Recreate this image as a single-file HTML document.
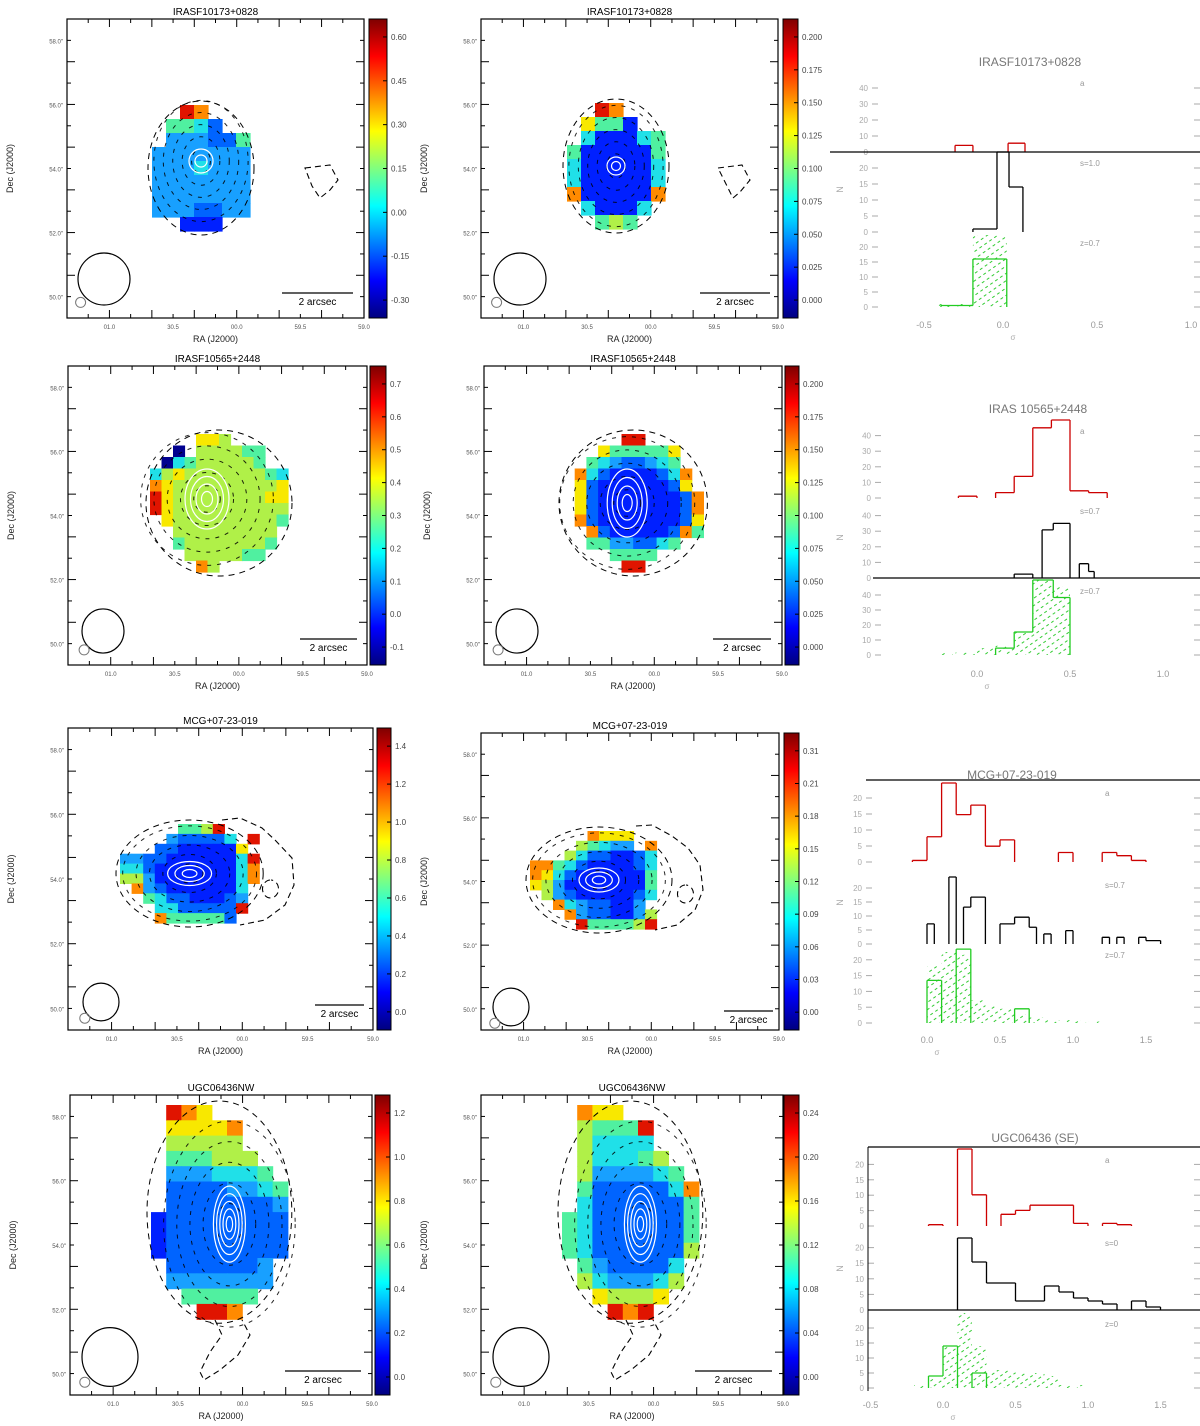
<!DOCTYPE html>
<html><head><meta charset="utf-8">
<style>
html,body{margin:0;padding:0;background:#fff;}
svg{display:block;font-family:"Liberation Sans",sans-serif;}
</style></head>
<body>
<svg id="fig" width="1200" height="1426" viewBox="0 0 1200 1426" xmlns="http://www.w3.org/2000/svg">
<defs>
<linearGradient id="jet" x1="0" y1="1" x2="0" y2="0">
<stop offset="0" stop-color="#00007f"/><stop offset="0.125" stop-color="#0000ff"/>
<stop offset="0.375" stop-color="#00ffff"/><stop offset="0.625" stop-color="#ffff00"/>
<stop offset="0.875" stop-color="#ff0000"/><stop offset="1" stop-color="#7f0000"/>
</linearGradient>
<pattern id="hatch" width="6" height="6" patternUnits="userSpaceOnUse" patternTransform="rotate(-35)">
<line x1="0" y1="3" x2="3" y2="3" stroke="#3c3" stroke-width="1"/>
</pattern>
</defs>
</svg>
<script>
// ---------- map data (colour level per spaxel, '.' = empty) ----------
const map1L = ["..98...",".5542..",".333225","3333333","3334333","3333333","3333333","3332233","..111.."];
const map1R = ["..98...",".7551..",".411145","5111115","4111114","4111114","8111118",".41114.","..565.."];
const map2L = ["....776.....","..0.666655..",".045666665..","467666666654","876666666667","976666666677","976666666666",".76666666665","..666666666.","..566666665.","...6666655..","....86......"];
const map2R = [".....99.....","...7555557..","..54322345..",".8421111248.",".7211111127.",".72111111128",".72111111128",".82111111127","..8211111285","..55332245..","....5555....",".....99....."];
const map3L = [".....5569...","....322224.9","...22111117.","332211111149","442111111148","663111111148",".8321111114.","..542211123.","...44222229.","...8555552.."];
const map3R = [".....8777...","....65433.8.","...64221124.","88542111124.","87421111115.","76311111115.",".6321111124.","..84322113..","...83221136.","....9555569."];
const map4L = [".987.....",".77778...",".66666...",".555666..",".3334445.",".22223345",".22222223","122222222","122222222","122222222",".2222223.",".3333333.","..55555..","...998..."];
const map4R = [".877.....",".65559...",".64444...",".644456..",".6333345.",".52222248",".42222225","542222225","542222225","542222226",".5322224.",".6433346.","..76667..","...989..."];

// colour-bar tick labels
const cb1L = ["0.60","0.45","0.30","0.15","0.00","-0.15","-0.30"];
const cb1R = ["0.200","0.175","0.150","0.125","0.100","0.075","0.050","0.025","0.000"];
const cb2L = ["0.7","0.6","0.5","0.4","0.3","0.2","0.1","0.0","-0.1"];
const cb2R = ["0.200","0.175","0.150","0.125","0.100","0.075","0.050","0.025","0.000"];
const cb3L = ["1.4","1.2","1.0","0.8","0.6","0.4","0.2","0.0"];
const cb3R = ["0.31","0.21","0.18","0.15","0.12","0.09","0.06","0.03","0.00"];
const cb4L = ["1.2","1.0","0.8","0.6","0.4","0.2","0.0"];
const cb4R = ["0.24","0.20","0.16","0.12","0.08","0.04","0.00"];

// ---------- histogram data ----------
const h1TopEdges=[-0.255,-0.16,0.027,0.117], h1TopCounts=[3,0,4];
const h1MidEdges=[-0.16,-0.032,0.032,0.106], h1MidCounts=[1,28,15];
const h1BotEdges=[-0.33,-0.16,0.02], h1BotCounts=[0.5,16];
const h1HatchEdges=[-0.35,-0.16,0.02], h1HatchCounts=[1,24];

const h2TopEdges=[-0.1,0,0.1,0.2,0.3,0.4,0.5,0.6,0.7], h2TopCounts=[1,0,3,12,39,45,4,3];
const h2MidEdges=[0.2,0.3,0.35,0.41,0.5,0.55,0.6,0.63], h2MidCounts=[3,0,37,42,0,11,5];
const h2BotEdges=[0.1,0.2,0.3,0.41,0.5], h2BotCounts=[3,10,40,25];
const h2HatchEdges=[-0.2,0,0.1,0.2,0.3,0.41,0.5,0.55], h2HatchCounts=[1,3,4,10,33,30,1];

const h3TopEdges=[-0.1,0,0.1,0.2,0.3,0.4,0.5,0.6,0.7,0.8,0.9,1.0,1.1,1.2,1.3,1.4,1.5], h3TopCounts=[0.5,8,25,15,18,5,7,0,0,0,3,0,0,3,2,0.5];
const h3MidEdges=[0,0.05,0.1,0.15,0.2,0.25,0.3,0.35,0.4,0.45,0.5,0.55,0.6,0.65,0.7,0.75,0.8,0.85,0.9,0.95,1.0,1.05,1.1,1.15,1.2,1.25,1.3,1.35,1.4,1.45,1.5,1.55,1.6], h3MidCounts=[6,0,0,20,0,11,14,14,0,0,6,6,8,8,5,0,3,0,0,4,0,0,0,0,2,0,2,0,0,2,1,1];
const h3BotEdges=[0,0.1,0.2,0.3,0.6,0.7], h3BotCounts=[15,0,26,0,5];
const h3HatchEdges=[0,0.1,0.2,0.3,0.4,0.5,0.6,0.7,0.8,0.9,1.0,1.1,1.2], h3HatchCounts=[20,25,24,8,6,5,3,2,1,1,1,0.5];

const h4TopEdges=[-0.1,0,0.1,0.2,0.3,0.4,0.5,0.6,0.7,0.8,0.9,1.0,1.1,1.2,1.3], h4TopCounts=[0.5,0,30,12,0,4.5,6,8,8,8,1,0,1,0.5];
const h4MidEdges=[0.1,0.2,0.3,0.4,0.5,0.6,0.7,0.8,0.9,1.0,1.1,1.2,1.3,1.4,1.5], h4MidCounts=[24,16,9,9,3,3,8,6,4,3,2,0,3,1];
const h4BotEdges=[-0.1,0,0.1,0.2,0.3], h4BotCounts=[4,14,0,5];
const h4HatchEdges=[-0.2,-0.1,0,0.1,0.2,0.3,0.4,0.5,0.6,0.7,0.8,0.9,1.0], h4HatchCounts=[1,3,14,26,14,6,6,5,5,4,1,1];

const histXTicks1=["-0.5","0.0","0.5","1.0"];
const histXTicks2=["0.0","0.5","1.0"];
const histXTicks3=["0.0","0.5","1.0","1.5"];
const histXTicks4=["-0.5","0.0","0.5","1.0","1.5"];

// ---------- helpers ----------
const NS="http://www.w3.org/2000/svg";
const svg=document.getElementById('fig');
const JET=['#00008f','#0020ff','#0064ff','#18a0ff','#20e0e8','#50f0a0','#b0f048','#f8e800','#ff8a00','#e01400'];
function mk(tag,attrs,parent){const e=document.createElementNS(NS,tag);for(const k in attrs)e.setAttribute(k,attrs[k]);(parent||svg).appendChild(e);return e;}
function txt(x,y,s,size,anchor,fill,parent,rot){const t=mk('text',{x:x,y:y,'font-size':size,'text-anchor':anchor||'middle',fill:fill||'#000'},parent);if(rot)t.setAttribute('transform','rotate('+rot+' '+x+' '+y+')');t.textContent=s;return t;}

function drawMap(cfg){
  const g=mk('g',{});
  
  
  mk('rect',{x:cfg.fx,y:cfg.fy,width:cfg.fw,height:cfg.fh,fill:'#fff',stroke:'#000','stroke-width':1.2},g);
  const rows=cfg.grid;
  for(let r=0;r<rows.length;r++){for(let c=0;c<rows[r].length;c++){const ch=rows[r][c];if(ch==='.'||ch===' ')continue;
    const cell=mk('rect',{x:cfg.gx+c*cfg.cw,y:cfg.gy+r*cfg.ch,width:cfg.cw+0.6,height:cfg.ch+0.6,fill:JET[+ch]},g);
    
    
  }}
  const W=rows[0].length*cfg.cw, H=rows.length*cfg.ch;
  const cx=cfg.gx+W/2+(cfg.ox||0), cy=cfg.gy+H/2+(cfg.oy||0);
  for(let k=1;k<=5;k++){mk('ellipse',{cx:cx,cy:cy,rx:W/2*k/5.2,ry:H/2*k/5.2,fill:'none',stroke:'#000','stroke-width':1,'stroke-dasharray':'4 6','stroke-opacity':0.85},g);}
  mk('ellipse',{cx:cfg.gx+W/2,cy:cfg.gy+H/2,rx:W/2+4,ry:H/2+4,fill:'none',stroke:'#000','stroke-width':1,'stroke-dasharray':'6 5'},g);
  const nW=cfg.white||3;
  for(let k=1;k<=nW;k++){mk('ellipse',{cx:cx,cy:cy,rx:(cfg.wrx||8)*k/nW,ry:(cfg.wry||8)*k/nW,fill:'none',stroke:'#fff','stroke-width':1.2},g);}
  if(cfg.extra)cfg.extra.forEach(d=>mk('path',{d:d,fill:'none',stroke:'#000','stroke-width':1.1,'stroke-dasharray':'6 4'},g));
  for(let i=1;i<14;i++){const x=cfg.fx+cfg.fw*i/14,L=(i%2?4:8);mk('line',{x1:x,y1:cfg.fy,x2:x,y2:cfg.fy+L,stroke:'#000'},g);mk('line',{x1:x,y1:cfg.fy+cfg.fh,x2:x,y2:cfg.fy+cfg.fh-L,stroke:'#000'},g);}
  for(let i=1;i<14;i++){const y=cfg.fy+cfg.fh*i/14,L=(i%2?4:8);mk('line',{x1:cfg.fx,y1:y,x2:cfg.fx+L,y2:y,stroke:'#000'},g);mk('line',{x1:cfg.fx+cfg.fw,y1:y,x2:cfg.fx+cfg.fw-L,y2:y,stroke:'#000'},g);}
  const t=txt(cfg.fx+cfg.fw/2,cfg.fy-4,cfg.title,10,'middle','#000',g);
  txt(cfg.fx+cfg.fw/2,cfg.fy+cfg.fh+24,'RA (J2000)',9,'middle','#222',g);
  txt(cfg.fx-54,cfg.fy+cfg.fh/2,'Dec (J2000)',9,'middle','#222',g,-90);
  ['01.0','30.5','00.0','59.5','59.0'].forEach((s,i)=>txt(cfg.fx+cfg.fw*(i*3+2)/14,cfg.fy+cfg.fh+11,s,6,'middle','#555',g));
  ['58.0"','56.0"','54.0"','52.0"','50.0"'].forEach((s,i)=>txt(cfg.fx-4,cfg.fy+cfg.fh*(i*3+1)/14+3,s,6,'end','#555',g));
  mk('ellipse',{cx:cfg.bx,cy:cfg.by,rx:cfg.br,ry:cfg.br*(cfg.bry||1),fill:'none',stroke:'#000','stroke-width':1.2},g);
  mk('circle',{cx:cfg.bx-cfg.br*0.9,cy:cfg.by+cfg.br*0.9,r:5,fill:'none',stroke:'#777'},g);
  mk('line',{x1:cfg.sx1,y1:cfg.sy,x2:cfg.sx2,y2:cfg.sy,stroke:'#000','stroke-width':1.3},g);
  txt((cfg.sx1+cfg.sx2)/2,cfg.sy+12,'2 arcsec',10,'middle','#000',g);
  const cb=mk('rect',{x:cfg.cbx,y:cfg.fy,width:cfg.cbw,height:cfg.fh,fill:'url(#jet)',stroke:'#000'},g);
  
  
  const n=cfg.cb.length;
  cfg.cb.forEach((s,i)=>{const y=cfg.fy+cfg.fh*(0.06+0.88*i/(n-1));mk('line',{x1:cfg.cbx+cfg.cbw-4,y1:y,x2:cfg.cbx+cfg.cbw,y2:y,stroke:'#000'},g);
    txt(cfg.cbx+cfg.cbw+4,y+3,s,8,'start','#444',g);});
}

const maps=[
 {name:'map-iras10173-left',title:'IRASF10173+0828',fx:67,fy:19,fw:297,fh:299,grid:map1L,gx:152,gy:105,cw:14,ch:14,cbx:369,cbw:18,cb:cb1L,bx:104,by:279,br:26,sx1:282,sx2:353,sy:293,wrx:12,wry:12,white:2,oy:-7,extra:['M305 168 L330 165 L338 180 L330 190 L320 198 L312 186 Z']},
 {name:'map-iras10173-right',title:'IRASF10173+0828',fx:481,fy:19,fw:297,fh:299,grid:map1R,gx:567,gy:103,cw:14,ch:14,cbx:783,cbw:15,cb:cb1R,bx:520,by:279,br:26,sx1:700,sx2:770,sy:293,wrx:9,wry:9,white:2,extra:['M718 168 L742 165 L750 180 L740 192 L733 198 L727 186 Z']},
 {name:'map-iras10565-left',title:'IRASF10565+2448',fx:68,fy:366,fw:299,fh:299,grid:map2L,gx:150,gy:434,cw:11.5,ch:11.5,cbx:370,cbw:16,cb:cb2L,bx:103,by:631,br:21,bry:1.05,sx1:300,sx2:357,sy:639,wrx:22,wry:30,white:4,ox:-12,oy:-4},
 {name:'map-iras10565-right',title:'IRASF10565+2448',fx:484,fy:366,fw:298,fh:299,grid:map2R,gx:563,gy:434,cw:11.7,ch:11.5,cbx:785,cbw:14,cb:cb2R,bx:517,by:631,br:21,bry:1.05,sx1:713,sx2:771,sy:639,wrx:20,wry:34,white:4,ox:-6},
 {name:'map-mcg0723-left',title:'MCG+07-23-019',fx:68,fy:728,fw:305,fh:302,grid:map3L,gx:120,gy:824,cw:11.6,ch:9.9,cbx:377,cbw:14,cb:cb3L,bx:101,by:1002,br:18,bry:1.05,sx1:315,sx2:364,sy:1005,wrx:22,wry:12,white:3,extra:['M222 820 L240 818 L262 828 L275 840 L292 858 L294 885 L285 905 L265 920 L240 925','M270 880 a8 9 0 1 0 1 0']},
 {name:'map-mcg0723-right',title:'MCG+07-23-019',fx:481,fy:733,fw:298,fh:297,grid:map3R,gx:530,gy:831,cw:11.5,ch:9.8,cbx:784,cbw:15,cb:cb3R,bx:511,by:1007,br:18,bry:1.05,sx1:724,sx2:773,sy:1011,wrx:20,wry:12,white:3,extra:['M636 826 L652 825 L672 836 L688 848 L700 865 L703 890 L695 910 L677 925 L655 930','M685 885 a8 9 0 1 0 1 0']},
 {name:'map-ugc06436-left',title:'UGC06436NW',fx:70,fy:1095,fw:302,fh:300,grid:map4L,gx:151,gy:1105,cw:15.2,ch:15.3,cbx:375,cbw:15,cb:cb4L,bx:110,by:1357,br:28,bry:1.05,sx1:285,sx2:361,sy:1371,wrx:16,wry:38,white:5,ox:10,oy:12,extra:['M215 1320 L222 1335 L210 1352 L200 1372 L204 1380 L220 1370 L238 1355 L250 1335 L242 1320']},
 {name:'map-ugc06436-right',title:'UGC06436NW',fx:481,fy:1095,fw:302,fh:300,grid:map4R,gx:562,gy:1105,cw:15.2,ch:15.3,cbx:784,cbw:15,cb:cb4R,bx:521,by:1357,br:28,bry:1.05,sx1:695,sx2:772,sy:1371,wrx:16,wry:38,white:5,ox:10,oy:12,extra:['M626 1320 L633 1335 L621 1352 L611 1372 L615 1380 L631 1370 L649 1355 L661 1335 L653 1320']}
];
maps.forEach(drawMap);

// ---------- histograms ----------
function stepPath(edges,counts,X,Y,ymin){
  let d='';
  for(let i=0;i<counts.length;i++){
    const c=counts[i]; const yT=Math.max(Y(c),ymin);
    const prev=i>0?counts[i-1]:0; const yP=Math.max(Y(prev),ymin);
    const x0=X(edges[i]),x1=X(edges[i+1]);
    if(c>0||prev>0)d+='M'+x0+' '+yP+' L'+x0+' '+yT+' ';
    if(c>0)d+='M'+x0+' '+yT+' L'+x1+' '+yT+' ';
  }
  const last=counts[counts.length-1];
  if(last>0){const xe=X(edges[edges.length-1]);d+='M'+xe+' '+Math.max(Y(last),ymin)+' L'+xe+' '+Y(0);}
  return d;
}
function drawHist(h){
  const g=mk('g',{});
  
  
  const X=v=>h.x0+v*h.ppu;
  txt(h.tx,h.ty,h.title,12,'middle','#777',g);
  h.subs.forEach(s=>{
    const Y=v=>s.base-v*s.ppc;
    if(s.hatchE){for(let i=0;i<s.hatchC.length;i++){const r=mk('rect',{x:X(s.hatchE[i]),y:Math.max(Y(s.hatchC[i]),s.top),width:X(s.hatchE[i+1])-X(s.hatchE[i]),height:s.base-Math.max(Y(s.hatchC[i]),s.top),fill:'url(#hatch)'},g);
      
      }}
    const p=mk('path',{d:stepPath(s.edges,s.counts,X,Y,s.top),fill:'none',stroke:s.color,'stroke-width':1.3},g);
    
    
    for(let k=0;k<5;k++){const y=s.base-(s.base-s.top)*k/5;mk('line',{x1:h.left,y1:y,x2:h.left+6,y2:y,stroke:'#aaa'},g);mk('line',{x1:1194,y1:y,x2:1200,y2:y,stroke:'#aaa'},g);
      txt(h.left-4,y+3,String(k*s.step),8,'end','#aaa',g);}
    txt(h.lx,s.top+14,s.label,8,'start','#999',g);
  });
  h.lines.forEach(l=>mk('line',{x1:l[0],y1:l[1],x2:l[2],y2:l[1],stroke:'#000','stroke-width':1.2},g));
  h.ticks.forEach((s,i)=>txt(X(h.tickVals[i]),h.axisY,s,9,'middle','#999',g));
  txt(h.x0+10,h.axisY+12,'σ',8,'middle','#aaa',g);
  txt(843,(h.subs[0].top+h.subs[2].base)/2,'N',9,'middle','#aaa',g,-90);
}
const hists=[
 {name:'hist-iras10173',title:'IRASF10173+0828',tx:1030,ty:66,x0:1003,ppu:188,left:872,lx:1080,axisY:328,ticks:histXTicks1,tickVals:[-0.42,0,0.5,1.0],
  lines:[[830,152,1200]],
  subs:[{label:'a',color:'#c00',edges:h1TopEdges,counts:h1TopCounts,base:152,top:72,ppc:2.2,step:10},
        {label:'s=1.0',color:'#000',edges:h1MidEdges,counts:h1MidCounts,base:232,top:152,ppc:3,step:5},
        {label:'z=0.7',color:'#2c2',edges:h1BotEdges,counts:h1BotCounts,base:307,top:232,ppc:3,step:5,hatchE:h1HatchEdges,hatchC:h1HatchCounts}]},
 {name:'hist-iras10565',title:'IRAS 10565+2448',tx:1038,ty:413,x0:977,ppu:186,left:875,lx:1080,axisY:677,ticks:histXTicks2,tickVals:[0,0.5,1.0],
  lines:[[873,578,1200]],
  subs:[{label:'a',color:'#c00',edges:h2TopEdges,counts:h2TopCounts,base:498,top:420,ppc:1.8,step:10},
        {label:'s=0.7',color:'#000',edges:h2MidEdges,counts:h2MidCounts,base:578,top:500,ppc:1.3,step:10},
        {label:'z=0.7',color:'#2c2',edges:h2BotEdges,counts:h2BotCounts,base:655,top:580,ppc:2.3,step:10,hatchE:h2HatchEdges,hatchC:h2HatchCounts}]},
 {name:'hist-mcg0723',title:'MCG+07-23-019',tx:1012,ty:779,x0:927,ppu:146,left:866,lx:1105,axisY:1043,ticks:histXTicks3,tickVals:[0,0.5,1.0,1.5],
  lines:[[866,780,1200]],
  subs:[{label:'a',color:'#c00',edges:h3TopEdges,counts:h3TopCounts,base:862,top:782,ppc:3.16,step:5},
        {label:'s=0.7',color:'#000',edges:h3MidEdges,counts:h3MidCounts,base:944,top:874,ppc:3.35,step:5},
        {label:'z=0.7',color:'#2c2',edges:h3BotEdges,counts:h3BotCounts,base:1023,top:944,ppc:2.84,step:5,hatchE:h3HatchEdges,hatchC:h3HatchCounts}]},
 {name:'hist-ugc06436',title:'UGC06436 (SE)',tx:1035,ty:1142,x0:943,ppu:145,left:868,lx:1105,axisY:1408,ticks:histXTicks4,tickVals:[-0.5,0,0.5,1.0,1.5],
  lines:[[868,1147,1200],[868,1310,1200]],
  subs:[{label:'a',color:'#c00',edges:h4TopEdges,counts:h4TopCounts,base:1226,top:1149,ppc:2.6,step:5},
        {label:'s=0',color:'#000',edges:h4MidEdges,counts:h4MidCounts,base:1310,top:1232,ppc:3,step:5},
        {label:'z=0',color:'#2c2',edges:h4BotEdges,counts:h4BotCounts,base:1388,top:1313,ppc:3,step:5,hatchE:h4HatchEdges,hatchC:h4HatchCounts}]}
];
hists.forEach(drawHist);
mk('line',{x1:868,y1:1147,x2:868,y2:1391,stroke:'#000'});
</script>
</body></html>
